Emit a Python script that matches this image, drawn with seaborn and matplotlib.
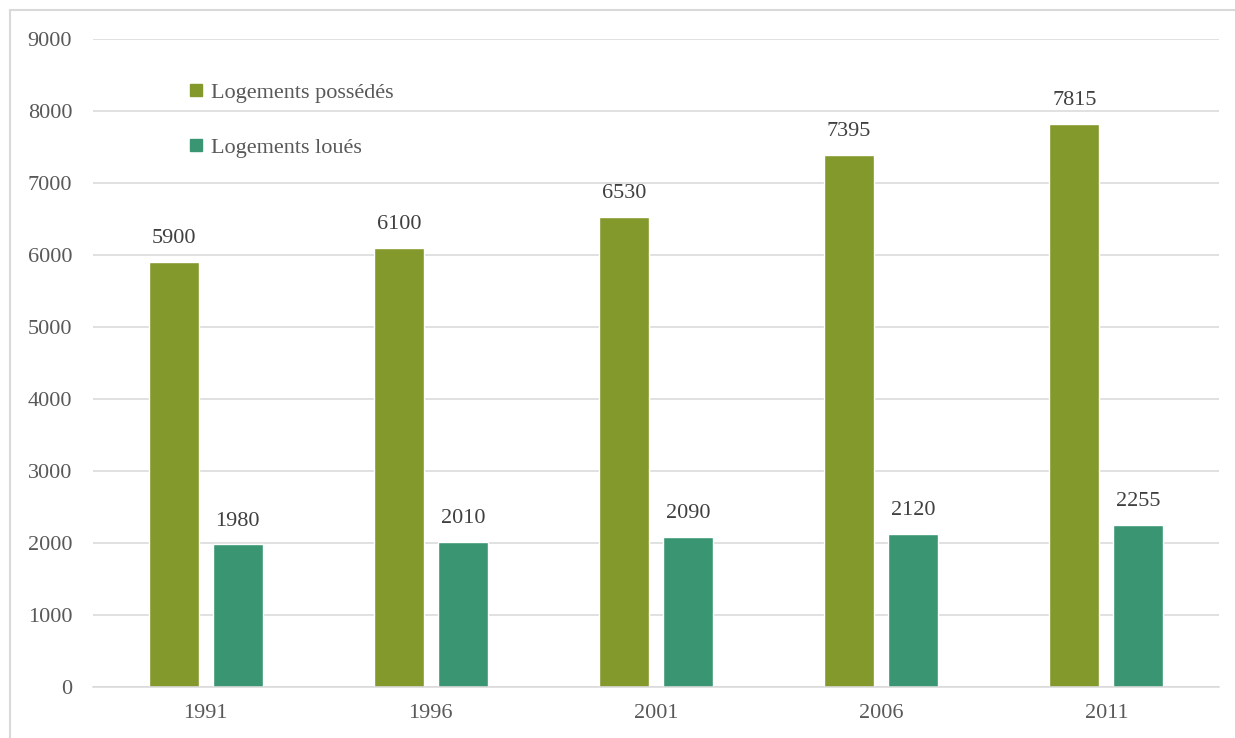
import pandas as pd
import seaborn as sns
import matplotlib.pyplot as plt
from matplotlib.lines import Line2D

# Data
years = ['1991', '1996', '2001', '2006', '2011']
owned = [5900, 6100, 6530, 7395, 7815]
rented = [1980, 2010, 2090, 2120, 2255]
series_names = ['Logements possédés', 'Logements loués']
colors = ['#84992C', '#3A9672']

df = pd.DataFrame({
    'Année': years * 2,
    'Logements': owned + rented,
    'Type': [series_names[0]] * len(years) + [series_names[1]] * len(years),
})

sns.set_theme(style='white')
plt.rcParams['font.family'] = ['Liberation Serif', 'DejaVu Serif']

fig = plt.figure(figsize=(12.35, 7.38), dpi=100)
ax = fig.add_axes([0.0753, 0.0691, 0.9117, 0.878])

sns.barplot(
    data=df, x='Année', y='Logements', hue='Type',
    palette=colors, width=0.568, gap=0.22, ax=ax,
    saturation=1, legend=False
)

# Value labels above the bars
for container in ax.containers:
    ax.bar_label(container, fmt='%d', padding=10, fontsize=16, color='#404040')

ax.set_ylim(0, 9000)
ax.set_xlim(-0.5, 4.5)
ax.set_yticks(range(0, 9001, 1000))
ax.yaxis.grid(True, color='#D9D9D9', linewidth=1.1)
ax.set_axisbelow(True)
for side in ['top', 'right', 'left']:
    ax.spines[side].set_visible(False)
ax.spines['bottom'].set_color('#D9D9D9')
ax.spines['bottom'].set_linewidth(1.1)
ax.tick_params(axis='both', length=0, labelsize=16, labelcolor='#595959')
ax.tick_params(axis='y', pad=15)
ax.tick_params(axis='x', pad=12)
ax.set_xlabel('')
ax.set_ylabel('')

handles = [Line2D([], [], marker='s', linestyle='', markersize=8,
                  markerfacecolor=c, markeredgecolor=c) for c in colors]
ax.legend(handles, series_names, loc='upper left',
          bbox_to_anchor=(0.085, 0.933), frameon=False, fontsize=16,
          labelcolor='#595959', handlelength=0.7, handletextpad=0.3,
          labelspacing=1.55, borderpad=0, borderaxespad=0)

# Light chart border (top and left edges visible)
fig.add_artist(Line2D([10 / 1235, 1.0], [1 - 10 / 738] * 2,
                      color='#D9D9D9', linewidth=1.5))
fig.add_artist(Line2D([10 / 1235] * 2, [0.0, 1 - 10 / 738],
                      color='#D9D9D9', linewidth=1.5))

fig.savefig('out.png', dpi=100)
